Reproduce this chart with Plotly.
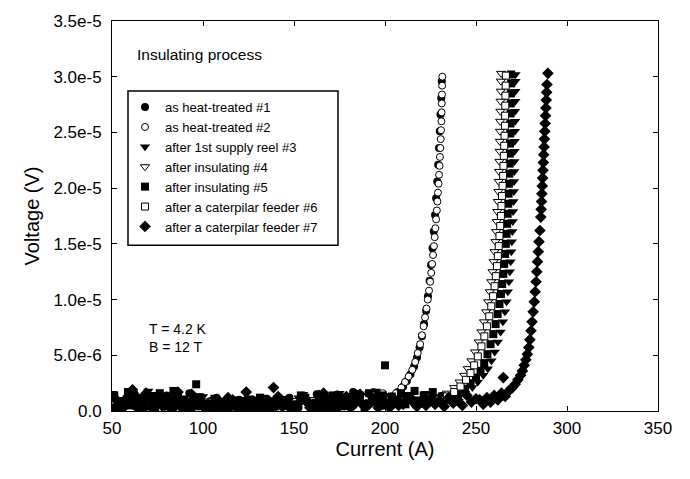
import plotly.graph_objects as go

# ---------------- data (current in A, voltage in microvolts) ----------------
base_I_a = [50, 55, 60, 65, 70, 75, 80, 85, 90, 95, 100, 105, 110, 115, 120, 125, 130, 135, 140, 145,
            150, 155, 160, 165, 170, 175, 180, 185, 190, 195]
base_I_b = [51.25, 56.25, 61.25, 66.25, 71.25, 76.25, 81.25, 86.25, 91.25, 96.25, 101.25, 106.25, 111.25,
            116.25, 121.25, 126.25, 131.25, 136.25, 141.25, 146.25, 151.25, 156.25, 161.25, 166.25, 171.25,
            176.25, 181.25, 186.25, 191.25, 196.25]
base_I_c = [52.5, 57.5, 62.5, 67.5, 72.5, 77.5, 82.5, 87.5, 92.5, 97.5, 102.5, 107.5, 112.5, 117.5, 122.5,
            127.5, 132.5, 137.5, 142.5, 147.5, 152.5, 157.5, 162.5, 167.5, 172.5, 177.5, 182.5, 187.5,
            192.5, 197.5]
base_I_d = [53.75, 58.75, 63.75, 68.75, 73.75, 78.75, 83.75, 88.75, 93.75, 98.75, 103.75, 108.75, 113.75,
            118.75, 123.75, 128.75, 133.75, 138.75, 143.75, 148.75, 153.75, 158.75, 163.75, 168.75, 173.75,
            178.75, 183.75, 188.75, 193.75, 198.75]

# series 1 : as heat-treated #1  (baseline on grids a and c)
base_V1 = [0.3, 0.9, 0.5, 1.2, 0.4, 0.8, 1.4, 0.6, 0.3, 1.0, 0.5, 0.2, 0.8, 0.4, 1.0, 0.3, 0.6, 0.2, 0.9, 0.5,
           0.4, 1.0, 0.7, 0.3, 1.1, 0.6, 0.9, 1.3, 0.7, 1.2]
base_V1b = [0.2, 0.6, 1.5, 0.3, 0.7, 1.1, 0.2, 0.9, 1.6, 0.4, 0.7, 1.2, 0.2, 0.6, 0.3, 1.0, 0.5, 0.3, 0.7, 1.2,
            0.3, 0.8, 1.5, 0.5, 0.9, 0.4, 1.7, 0.6, 1.3, 0.9]
rise_I1 = [204, 207, 210, 212, 214, 216, 217.6, 219, 220.3, 221.5, 222.6, 223.6, 224.5, 225.3, 226.1, 226.8,
           227.5, 228.1, 228.7, 229.2, 229.7, 230.1, 230.5, 230.9, 231.2]
rise_V1 = [1.3, 1.7, 2.2, 2.7, 3.3, 4.0, 4.8, 5.7, 6.7, 7.8, 9.0, 10.3, 11.7, 13.1, 14.6, 16.1, 17.6, 19.1,
           20.6, 22.1, 23.6, 25.1, 26.6, 28.1, 29.6]

# series 2 : as heat-treated #2  (baseline on grid d)
base_V2 = [0.8, 0.5, 1.1, 0.4, 0.9, 0.7, 1.2, 0.6, 0.8, 0.5, 0.9, 0.3, 0.6, 0.8, 0.5, 0.4, 0.7, 0.9, 0.6, 0.5,
           1.1, 0.9, 1.3, 1.0, 1.5, 1.2, 1.6, 1.4, 1.7, 1.6]
rise_I2 = [203, 206, 209, 211, 213, 215, 216.6, 218, 219.3, 220.3, 221.2, 222.0, 222.8, 223.5, 224.2, 224.8,
           225.4, 225.9, 226.4, 226.9, 227.3, 227.7, 228.1, 228.5, 228.8, 229.1, 229.4, 229.7, 230.0, 230.2,
           230.4, 230.6, 230.8, 231.0, 231.1, 231.2, 231.3, 231.4, 231.5]
rise_V2 = [1.2, 1.6, 2.1, 2.6, 3.1, 3.7, 4.4, 5.2, 6.0, 6.8, 7.6, 8.4, 9.2, 10.0, 10.8, 11.6, 12.4, 13.2, 14.0,
           14.8, 15.6, 16.4, 17.2, 18.0, 18.8, 19.6, 20.4, 21.2, 22.0, 22.8, 23.6, 24.4, 25.2, 26.0, 26.8,
           27.6, 28.4, 29.2, 30.0]

# series 3 : after 1st supply reel #3  (baseline on grids c and a)
base_V3 = [1.0, 0.4, 1.3, 0.7, 1.5, 0.3, 0.9, 1.1, 0.5, 1.4, 0.8, 0.6, 0.3, 1.1, 0.5, 0.8, 0.2, 1.0, 0.4, 0.7,
           1.2, 0.5, 0.9, 1.3, 0.6, 1.0, 1.4, 0.8, 1.2, 1.5]
base_V3b = [1.6, 0.2, 0.8, 0.5, 1.8, 0.4, 1.0, 0.3, 1.2, 0.6, 1.3, 0.4, 0.9, 0.2, 0.6, 1.2, 0.4, 0.7, 0.3, 1.1,
            0.7, 1.5, 0.4, 1.0, 0.5, 1.6, 0.3, 1.2, 0.5, 1.8]
mid_I3 = [200, 202.5, 205, 207.5, 210, 212.5, 215, 217.5, 220, 222.5, 225, 227.5, 230, 232.5, 235, 237.5]
mid_V3 = [0.8, 1.4, 0.6, 1.2, 0.9, 1.5, 0.7, 1.1, 1.0, 1.6, 0.8, 1.3, 1.1, 1.5, 1.0, 1.3]
rise_I3 = [240, 244, 248, 251, 254, 256.5, 258.5, 260.3, 262, 263.5, 264.8, 265.9, 266.8, 267.5, 268.1, 268.6,
           269.0, 269.4, 269.7, 270.0, 270.2, 270.4, 270.6, 270.8, 270.9, 271.0, 271.1, 271.2, 271.3, 271.4,
           271.5, 271.5, 271.6, 271.6, 271.7, 271.7]
rise_V3 = [1.2, 1.6, 2.1, 2.6, 3.2, 3.8, 4.5, 5.3, 6.2, 7.1, 8.0, 8.9, 9.8, 10.7, 11.6, 12.5, 13.4, 14.3, 15.2,
           16.1, 17.0, 17.9, 18.8, 19.7, 20.6, 21.5, 22.4, 23.3, 24.2, 25.1, 26.0, 26.9, 27.8, 28.7, 29.6, 30.2]

# series 4 : after insulating #4  (baseline on grid b)
base_V4 = [0.7, 1.0, 0.5, 0.9, 1.3, 0.6, 0.8, 1.1, 0.5, 0.7, 0.9, 0.4, 0.6, 0.3, 0.7, 0.5, 0.8, 0.6, 0.4, 0.7,
           0.6, 0.8, 1.0, 0.7, 0.9, 1.1, 0.8, 1.0, 1.2, 0.9]
mid_I4 = [202.5, 207.5, 212.5, 217.5, 222.5]
mid_V4 = [0.9, 0.7, 1.0, 0.8, 0.7]
rise_I4 = [225, 230, 234, 238, 241, 243.5, 245.5, 247.5, 249.5, 251.5, 253, 254.4, 255.6, 256.7, 257.6, 258.4,
           259.1, 259.7, 260.2, 260.7, 261.1, 261.4, 261.7, 262.0, 262.3, 262.5, 262.7, 262.9, 263.0, 263.1,
           263.2, 263.3, 263.4, 263.5, 263.6, 263.7, 263.8]
rise_V4 = [0.9, 1.2, 1.6, 2.1, 2.6, 3.2, 3.8, 4.5, 5.3, 6.2, 7.1, 8.0, 8.9, 9.8, 10.7, 11.6, 12.5, 13.4, 14.3,
           15.2, 16.1, 17.0, 17.9, 18.8, 19.7, 20.6, 21.5, 22.4, 23.3, 24.2, 25.1, 26.0, 26.9, 27.8, 28.7,
           29.6, 30.3]

# series 5 : after insulating #5  (baseline on grids b and d)
base_V5 = [1.4, 0.6, 1.0, 0.2, 1.3, 1.6, 0.4, 1.2, 0.8, 2.4, 0.3, 1.1, 0.6, 0.9, 0.2, 0.7, 1.2, 0.4, 0.6, 1.0,
           0.6, 1.2, 0.3, 0.9, 1.4, 0.8, 0.5, 1.1, 1.6, 0.9]
base_V5b = [0.4, 1.7, 0.7, 1.1, 0.2, 0.9, 1.8, 0.5, 0.3, 1.2, 0.6, 0.3, 1.0, 0.5, 0.9, 0.2, 1.1, 0.6, 0.9, 0.3,
            1.4, 0.6, 1.0, 0.3, 1.3, 0.7, 1.1, 0.2, 0.8, 1.4]
mid_I5 = [200, 201.25, 203.75, 206.25, 208.75, 211.25, 213.75, 216.25, 218.75, 221.25, 223.75, 226.25, 228.75,
          231.25, 233.75]
mid_V5 = [4.1, 0.5, 1.3, 0.9, 1.6, 0.6, 1.2, 1.8, 0.8, 1.4, 1.0, 1.7, 0.9, 1.3, 1.0]
rise_I5 = [236, 240, 244, 247, 250, 252.5, 254.5, 256.3, 258, 259.5, 260.8, 261.9, 262.9, 263.7, 264.4, 265.0,
           265.5, 266.0, 266.4, 266.8, 267.1, 267.4, 267.7, 267.9, 268.1, 268.3, 268.5, 268.6, 268.7, 268.8,
           268.9, 269.0, 269.1, 269.2, 269.3, 269.3]
rise_V5 = [1.1, 1.5, 2.0, 2.5, 3.0, 3.6, 4.3, 5.1, 6.0, 6.9, 7.8, 8.7, 9.6, 10.5, 11.4, 12.3, 13.2, 14.1, 15.0,
           15.9, 16.8, 17.7, 18.6, 19.5, 20.4, 21.3, 22.2, 23.1, 24.0, 24.9, 25.8, 26.7, 27.6, 28.5, 29.4, 30.2]

# series 6 : after a caterpilar feeder #6  (baseline on grid a)
base_V6 = [0.4, 0.7, 0.9, 0.5, 0.8, 0.6, 1.0, 0.7, 0.5, 0.9, 0.6, 0.8, 0.4, 0.7, 0.5, 0.8, 0.6, 0.9, 0.7, 0.5,
           0.8, 1.0, 0.9, 1.2, 1.0, 1.3, 1.1, 1.4, 1.2, 1.5]
mid_I6 = [202.5, 207.5, 212.5, 217.5, 222.5, 227.5]
mid_V6 = [1.1, 0.8, 1.2, 0.9, 1.0, 0.8]
rise_I6 = [230, 234, 238, 241.5, 244.5, 247, 249, 251, 253, 254.6, 256, 257.3, 258.4, 259.4, 260.2, 260.9,
           261.5, 262.0, 262.5, 262.9, 263.3, 263.7, 264.0, 264.3, 264.6, 264.9, 265.1, 265.3, 265.5, 265.7,
           265.9, 266.0, 266.1, 266.2, 266.3, 266.4]
rise_V6 = [1.0, 1.3, 1.7, 2.2, 2.8, 3.4, 4.1, 4.9, 5.8, 6.7, 7.6, 8.5, 9.4, 10.3, 11.2, 12.1, 13.0, 13.9, 14.8,
           15.7, 16.6, 17.5, 18.4, 19.3, 20.2, 21.1, 22.0, 22.9, 23.8, 24.7, 25.6, 26.5, 27.4, 28.3, 29.2, 30.1]

# series 7 : after a caterpilar feeder #7  (baseline on grids d and b)
base_V7 = [0.6, 1.3, 0.3, 1.6, 0.9, 0.5, 1.1, 0.2, 1.5, 0.7, 0.4, 0.9, 1.2, 0.3, 1.7, 0.5, 0.8, 2.1, 0.4, 0.2,
           0.9, 0.3, 1.4, 0.6, 0.2, 1.3, 0.7, 0.4, 1.0, 0.6]
base_V7b = [1.2, 0.3, 1.9, 0.6, 0.4, 1.4, 0.8, 1.7, 0.2, 1.1, 0.2, 0.7, 0.4, 1.0, 0.3, 0.6, 0.3, 0.9, 1.3, 0.5,
            0.2, 1.1, 0.6, 1.6, 0.4, 1.0, 0.3, 1.5, 0.6, 0.3]
mid_I7 = [200, 202.5, 205, 207.5, 210, 212.5, 215, 217.5, 220, 222.5, 225, 227.5, 230, 232.5, 235, 237.5, 240,
          242.5, 245, 247.5, 250, 265]
mid_V7 = [0.7, 0.3, 0.9, 0.5, 0.6, 1.2, 1.0, 0.4, 0.8, 0.5, 1.1, 0.6, 0.9, 0.4, 1.2, 0.7, 1.0, 0.5, 1.4, 0.8,
          1.1, 3.0]
rise_I7 = [252, 254, 256, 258, 260, 262, 264, 266, 268, 270, 271.5, 273, 274.5, 275.5, 276.5, 277.4, 278.2,
           279.0, 279.6, 280.2, 280.8, 281.4, 282.0, 282.5, 283.0, 283.4, 283.8, 284.2, 284.6, 285.1,
           285.6, 285.8, 286.0, 286.2, 286.4, 286.6, 286.8, 287.0, 287.2, 287.4, 287.6, 287.8, 288.0, 288.2,
           288.4, 288.6, 288.8, 289.0, 289.5]
rise_V7 = [1.0, 0.6, 1.2, 0.8, 1.4, 1.0, 1.6, 1.3, 1.8, 2.1, 2.4, 2.8, 3.2, 3.6, 4.1, 4.6, 5.1,
           5.7, 6.4, 7.2, 8.0, 8.9, 9.8, 10.7, 11.6, 12.5, 13.4, 14.3, 15.2, 16.2,
           17.4, 18.1, 18.8, 19.5, 20.2, 20.9, 21.6, 22.3, 23.0, 23.7, 24.4, 25.1, 25.8, 26.5, 27.2, 27.9,
           28.6, 29.3, 30.3]

names = ["as heat-treated #1", "as heat-treated #2", "after 1st supply reel #3", "after insulating #4",
         "after insulating #5", "after a caterpilar feeder #6", "after a caterpilar feeder #7"]

y_tickvals = [0, 5e-6, 1e-5, 1.5e-5, 2e-5, 2.5e-5, 3e-5, 3.5e-5]
y_ticktext = ["0.0", "5.0e-6", "1.0e-5", "1.5e-5", "2.0e-5", "2.5e-5", "3.0e-5", "3.5e-5"]
x_tickvals = [50, 100, 150, 200, 250, 300, 350]

# low-current (baseline) part and transition part of each series
low_I = [
    base_I_a + base_I_c,
    base_I_d,
    base_I_c + base_I_a + mid_I3,
    base_I_b + mid_I4,
    base_I_b + base_I_d + mid_I5,
    base_I_a + mid_I6,
    base_I_d + base_I_b + mid_I7,
]
low_V = [
    base_V1 + base_V1b,
    base_V2,
    base_V3 + base_V3b + mid_V3,
    base_V4 + mid_V4,
    base_V5 + base_V5b + mid_V5,
    base_V6 + mid_V6,
    base_V7 + base_V7b + mid_V7,
]
high_I = [rise_I1, rise_I2, rise_I3, rise_I4, rise_I5, rise_I6, rise_I7]
high_V = [rise_V1, rise_V2, rise_V3, rise_V4, rise_V5, rise_V6, rise_V7]
is_open = [False, True, False, True, False, True, False]

# ---------------- styles ----------------
styles = [
    dict(symbol="circle", size=8, color="black", line=dict(color="black", width=0)),
    dict(symbol="circle", size=7, color="white", line=dict(color="black", width=1)),
    dict(symbol="triangle-down", size=9, color="black", line=dict(color="black", width=0)),
    dict(symbol="triangle-down", size=8, color="white", line=dict(color="black", width=1)),
    dict(symbol="square", size=8, color="black", line=dict(color="black", width=0)),
    dict(symbol="square", size=7, color="white", line=dict(color="black", width=1)),
    dict(symbol="diamond", size=9, color="black", line=dict(color="black", width=0)),
]

FONT = "Liberation Sans, Arial, sans-serif"

fig = go.Figure()
# baseline of the open-symbol series drawn first (underneath the filled symbols)
for k in range(7):
    if is_open[k]:
        fig.add_trace(go.Scatter(
            x=low_I[k], y=[v * 1e-6 for v in low_V[k]], mode="markers", name=names[k],
            marker=styles[k], legendgroup=names[k], showlegend=False,
        ))
for k in range(7):
    if is_open[k]:
        xs, vs = high_I[k], high_V[k]
    else:
        xs, vs = low_I[k] + high_I[k], low_V[k] + high_V[k]
    fig.add_trace(go.Scatter(
        x=xs, y=[v * 1e-6 for v in vs], mode="markers", name=names[k],
        marker=styles[k], legendgroup=names[k],
    ))

# plot-area pixel geometry: left 112, right 658, top 16, bottom 411
def px_x(p):
    return (p - 112) / 546.0

def px_y(p):
    return (411 - p) / 395.0

fig.update_layout(
    width=690, height=479,
    margin=dict(l=112, r=32, t=16, b=68),
    paper_bgcolor="white", plot_bgcolor="white",
    font=dict(family=FONT, color="black", size=17),
    showlegend=True,
    legend=dict(
        x=px_x(125), y=px_y(88), xanchor="left", yanchor="top",
        bgcolor="rgba(0,0,0,0)", borderwidth=0,
        font=dict(family=FONT, size=13, color="black"),
        tracegroupgap=0,
    ),
    shapes=[dict(type="rect", xref="paper", yref="paper",
                 x0=px_x(128), x1=px_x(338), y0=px_y(243), y1=px_y(87),
                 line=dict(color="black", width=1.5), fillcolor="rgba(0,0,0,0)", layer="above")],
    annotations=[
        dict(text="Insulating process", xref="paper", yref="paper", x=px_x(135), y=px_y(50),
             xanchor="left", yanchor="middle", showarrow=False, font=dict(size=15.5, family=FONT)),
        dict(text="T = 4.2 K", xref="paper", yref="paper", x=px_x(147), y=px_y(328),
             xanchor="left", yanchor="middle", showarrow=False, font=dict(size=14, family=FONT)),
        dict(text="B = 12 T", xref="paper", yref="paper", x=px_x(147), y=px_y(346),
             xanchor="left", yanchor="middle", showarrow=False, font=dict(size=14, family=FONT)),
    ],
)

fig.update_xaxes(
    range=[50, 350], tickvals=x_tickvals, ticks="inside", ticklen=5, tickcolor="black",
    showline=True, linecolor="black", linewidth=1, mirror="ticks", showgrid=False, zeroline=False,
    tickfont=dict(size=17, family=FONT), ticklabelstandoff=2,
    title=dict(text="Current (A)", font=dict(size=20, family=FONT), standoff=4),
)
fig.update_yaxes(
    range=[0, 3.5e-5], tickvals=y_tickvals, ticktext=y_ticktext, ticks="inside", ticklen=5,
    tickcolor="black", showline=True, linecolor="black", linewidth=1, mirror="ticks",
    showgrid=False, zeroline=False,
    tickfont=dict(size=17, family=FONT), ticklabelstandoff=6,
    title=dict(text="Voltage (V)", font=dict(size=20, family=FONT), standoff=8),
)

fig.write_html("out.html")
